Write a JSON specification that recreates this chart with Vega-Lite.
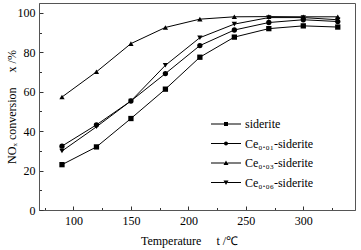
{
  "$schema": "https://vega.github.io/schema/vega-lite/v6.json",
  "autosize": "none",
  "width": 316,
  "height": 207,
  "padding": {"left": 39, "top": 3, "right": 6, "bottom": 40},
  "background": "white",
  "config": {
    "view": {"stroke": "#555", "strokeWidth": 1},
    "font": "Liberation Serif",
    "axis": {"labelFont": "Liberation Serif", "titleFont": "Liberation Serif", "labelFontSize": 12, "titleFontSize": 12, "labelColor": "black", "titleColor": "black", "titleFontWeight": "normal", "domainColor": "#555", "tickColor": "#333", "grid": false},
    "legend": {"labelFont": "Liberation Serif", "labelFontSize": 12, "labelColor": "black"}
  },
  "data": {
    "values": [
      {"series": "siderite", "t": 90, "x": 23},
      {"series": "siderite", "t": 120, "x": 32},
      {"series": "siderite", "t": 150, "x": 46.4},
      {"series": "siderite", "t": 180, "x": 61.3},
      {"series": "siderite", "t": 210, "x": 77.5},
      {"series": "siderite", "t": 240, "x": 87.7},
      {"series": "siderite", "t": 270, "x": 92},
      {"series": "siderite", "t": 300, "x": 93.4},
      {"series": "siderite", "t": 330, "x": 92.8},
      {"series": "Ce₀.₀₁-siderite", "t": 90, "x": 32.4},
      {"series": "Ce₀.₀₁-siderite", "t": 120, "x": 43.2},
      {"series": "Ce₀.₀₁-siderite", "t": 150, "x": 55.3},
      {"series": "Ce₀.₀₁-siderite", "t": 180, "x": 69.2},
      {"series": "Ce₀.₀₁-siderite", "t": 210, "x": 83.4},
      {"series": "Ce₀.₀₁-siderite", "t": 240, "x": 91.3},
      {"series": "Ce₀.₀₁-siderite", "t": 270, "x": 95.1},
      {"series": "Ce₀.₀₁-siderite", "t": 300, "x": 96.5},
      {"series": "Ce₀.₀₁-siderite", "t": 330, "x": 95.6},
      {"series": "Ce₀.₀₃-siderite", "t": 90, "x": 57.3},
      {"series": "Ce₀.₀₃-siderite", "t": 120, "x": 70.1},
      {"series": "Ce₀.₀₃-siderite", "t": 150, "x": 84.4},
      {"series": "Ce₀.₀₃-siderite", "t": 180, "x": 92.6},
      {"series": "Ce₀.₀₃-siderite", "t": 210, "x": 96.8},
      {"series": "Ce₀.₀₃-siderite", "t": 240, "x": 98},
      {"series": "Ce₀.₀₃-siderite", "t": 270, "x": 98.1},
      {"series": "Ce₀.₀₃-siderite", "t": 300, "x": 98},
      {"series": "Ce₀.₀₃-siderite", "t": 330, "x": 98},
      {"series": "Ce₀.₀₆-siderite", "t": 90, "x": 29.9},
      {"series": "Ce₀.₀₆-siderite", "t": 120, "x": 42.2},
      {"series": "Ce₀.₀₆-siderite", "t": 150, "x": 55.3},
      {"series": "Ce₀.₀₆-siderite", "t": 180, "x": 73.4},
      {"series": "Ce₀.₀₆-siderite", "t": 210, "x": 87.4},
      {"series": "Ce₀.₀₆-siderite", "t": 240, "x": 94.3},
      {"series": "Ce₀.₀₆-siderite", "t": 270, "x": 97.6},
      {"series": "Ce₀.₀₆-siderite", "t": 300, "x": 97.6},
      {"series": "Ce₀.₀₆-siderite", "t": 330, "x": 96.5}
    ]
  },
  "encoding": {
    "x": {
      "field": "t", "type": "quantitative",
      "scale": {"domain": [70, 345], "nice": false, "zero": false},
      "axis": {
        "title": "Temperature\u00a0\u00a0\u00a0\u00a0\u00a0t\u00a0/℃",
        "values": [75, 100, 125, 150, 175, 200, 225, 250, 275, 300, 325],
        "labelExpr": "datum.value % 50 == 0 ? datum.label : ''",
        "tickSize": {"condition": {"test": "datum.value % 50 == 0", "value": -4}, "value": -2.5},
        "labelPadding": 9,
        "titleY": 30, "titleX": 150, "titleBaseline": "middle"
      }
    },
    "y": {
      "field": "x", "type": "quantitative",
      "scale": {"domain": [0, 105], "nice": false},
      "axis": {
        "title": "NOₓ conversion\u00a0\u00a0\u00a0\u00a0\u00a0x\u00a0/%",
        "values": [0, 10, 20, 30, 40, 50, 60, 70, 80, 90, 100],
        "labelExpr": "datum.value % 20 == 0 ? datum.label : ''",
        "tickSize": {"condition": {"test": "datum.value % 20 == 0", "value": -4}, "value": -2.5},
        "labelPadding": 8,
        "titleX": -28, "titleBaseline": "middle"
      }
    }
  },
  "layer": [
    {
      "mark": {"type": "line", "color": "black", "strokeWidth": 1},
      "encoding": {"detail": {"field": "series"}}
    },
    {
      "mark": {"type": "point", "filled": true, "color": "black", "opacity": 1, "size": 28},
      "encoding": {
        "shape": {
          "field": "series", "type": "nominal",
          "scale": {"domain": ["siderite", "Ce₀.₀₁-siderite", "Ce₀.₀₃-siderite", "Ce₀.₀₆-siderite"], "range": ["square", "circle", "triangle-up", "triangle-down"]},
          "legend": null
        }
      }
    },
    {
      "mark": {"type": "point", "filled": true, "color": "black", "opacity": 0, "size": 100},
      "encoding": {
        "shape": {
          "field": "series", "type": "nominal",
          "scale": {"domain": ["siderite", "Ce₀.₀₁-siderite", "Ce₀.₀₃-siderite", "Ce₀.₀₆-siderite"], "range": [
            "M-3,-0.1H-0.3V0.1H-3ZM0.3,-0.1H3V0.1H0.3ZM-0.4,-0.4H0.4V0.4H-0.4Z",
            "M-3,-0.1H-0.3V0.1H-3ZM0.3,-0.1H3V0.1H0.3ZM-0.4,0A0.4,0.4,0,1,1,0.4,0A0.4,0.4,0,1,1,-0.4,0Z",
            "M-3,-0.1H-0.3V0.1H-3ZM0.3,-0.1H3V0.1H0.3ZM0,-0.5L0.5,0.4L-0.5,0.4Z",
            "M-3,-0.1H-0.3V0.1H-3ZM0.3,-0.1H3V0.1H0.3ZM-0.5,-0.4L0.5,-0.4L0,0.5Z"
          ]},
          "legend": {
            "title": null, "orient": "none", "legendX": 181, "legendY": 115,
            "padding": 0, "symbolSize": 100, "symbolOpacity": 1,
            "symbolFillColor": "black", "symbolStrokeColor": "black", "symbolStrokeWidth": 0,
            "labelOffset": 13, "rowPadding": 7.5
          }
        }
      }
    }
  ],
  "resolve": {"scale": {"shape": "independent"}, "legend": {"shape": "independent"}}
}
